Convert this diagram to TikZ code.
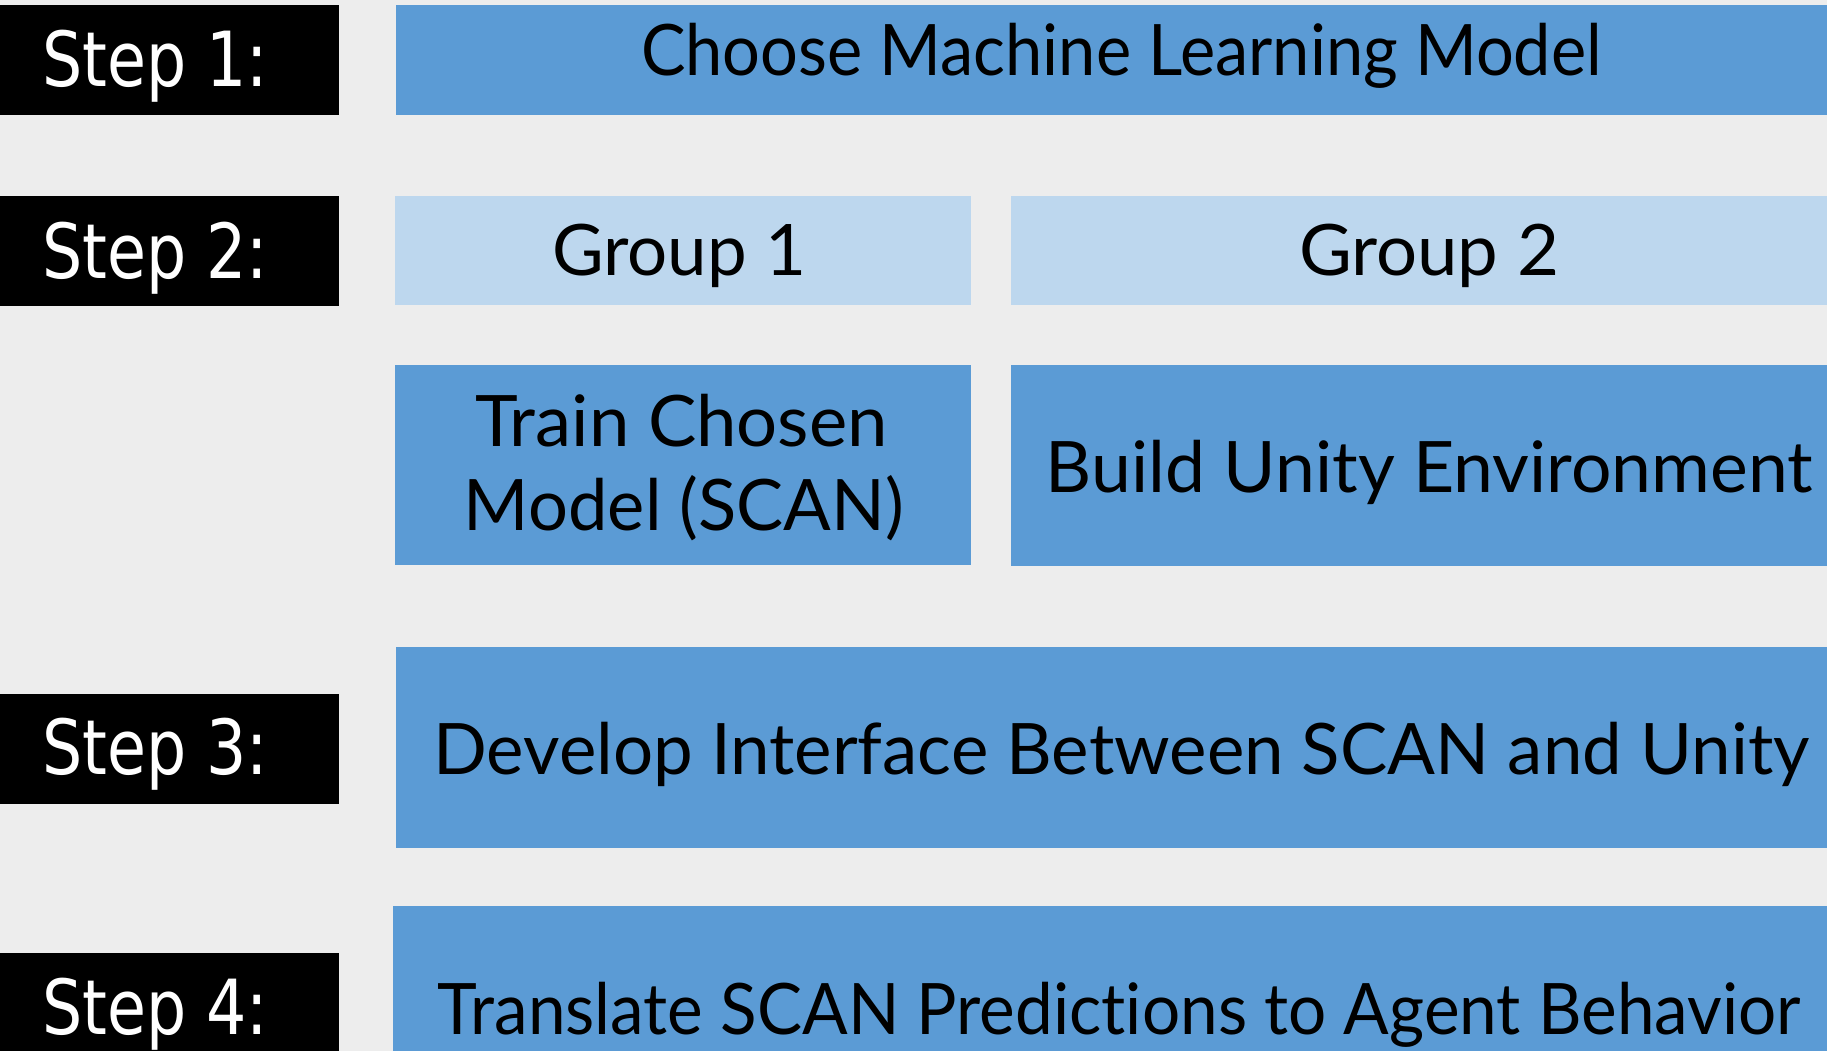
\documentclass[tikz,border=0pt]{standalone}
\usepackage{fontspec}
\usepackage{graphicx}
\setmainfont{Lato}[Ligatures=NoCommon]
\newfontfamily\stepfont{DejaVu Sans}
\definecolor{pagebg}{HTML}{EDEDED}
\definecolor{taskblue}{HTML}{5B9BD5}
\definecolor{groupblue}{HTML}{BDD7EE}
% set a label to a given width, keeping its height
\newcommand{\setwide}[2]{\resizebox{#1pt}{\height}{#2}}
\begin{document}
\begin{tikzpicture}[x=1pt,y=-1pt,
  panel/.style={anchor=north west, inner sep=0pt, outer sep=0pt, draw=none},
  stepbox/.style={panel, fill=black, minimum width=339pt, minimum height=110pt},
  taskbox/.style={panel, fill=taskblue},
  groupbox/.style={panel, fill=groupblue},
  steplbl/.style={anchor=base west, inner sep=0pt, text=white, font=\stepfont\fontsize{76}{90}\selectfont},
  tasklbl/.style={anchor=base, inner sep=0pt, text=black, font=\fontsize{71}{84}\selectfont}]
\fill[pagebg] (0,0) rectangle (1827,1051);
\useasboundingbox (0,0) rectangle (1827,1051);

% step markers on the left
\node[stepbox] (s1) at (0,4.7) {};
\node[stepbox] (s2) at (0,196) {};
\node[stepbox] (s3) at (0,694) {};
\node[stepbox, minimum height=160pt] (s4) at (0,953) {};
\node[steplbl] (s1t) at (42,87) {\setwide{226}{Step 1:}};
\node[steplbl] (s2t) at (42,278) {\setwide{226}{Step 2:}};
\node[steplbl] (s3t) at (42,774) {\setwide{226}{Step 3:}};
\node[steplbl] (s4t) at (42,1034) {\setwide{226}{Step 4:}};

% step 1
\node[taskbox, minimum width=1431pt, minimum height=110.7pt] (choose) at (396,4.7) {};
\node[tasklbl] (chooset) at (1121.5,76) {\setwide{961}{Choose Machine Learning Model}};

% step 2: the two groups
\node[groupbox, minimum width=576pt, minimum height=109pt] (g1) at (395,196) {};
\node[groupbox, minimum width=816pt, minimum height=109pt] (g2) at (1011,196) {};
\node[tasklbl] (g1t) at (679,275) {\setwide{254}{Group 1}};
\node[tasklbl] (g2t) at (1429,275) {\setwide{260}{Group 2}};

\node[taskbox, minimum width=576pt, minimum height=200pt] (train) at (395,365) {};
\node[taskbox, minimum width=816pt, minimum height=201pt] (build) at (1011,365) {};
\node[tasklbl] (traint1) at (681.5,446) {\setwide{413}{Train Chosen}};
\node[tasklbl] (traint2) at (684,530) {\setwide{440}{Model (SCAN)}};
\node[tasklbl] (buildt) at (1429.5,492) {\setwide{767}{Build Unity Environment}};

% step 3
\node[taskbox, minimum width=1431pt, minimum height=201pt] (develop) at (396,647) {};
\node[tasklbl] (developt) at (1121.5,774) {\setwide{1376}{Develop Interface Between SCAN and Unity}};

% step 4
\node[taskbox, minimum width=1434pt, minimum height=210pt] (translate) at (393,906) {};
\node[tasklbl] (translatet) at (1119.5,1034) {\setwide{1363}{Translate SCAN Predictions to Agent Behavior}};
\end{tikzpicture}
\end{document}
